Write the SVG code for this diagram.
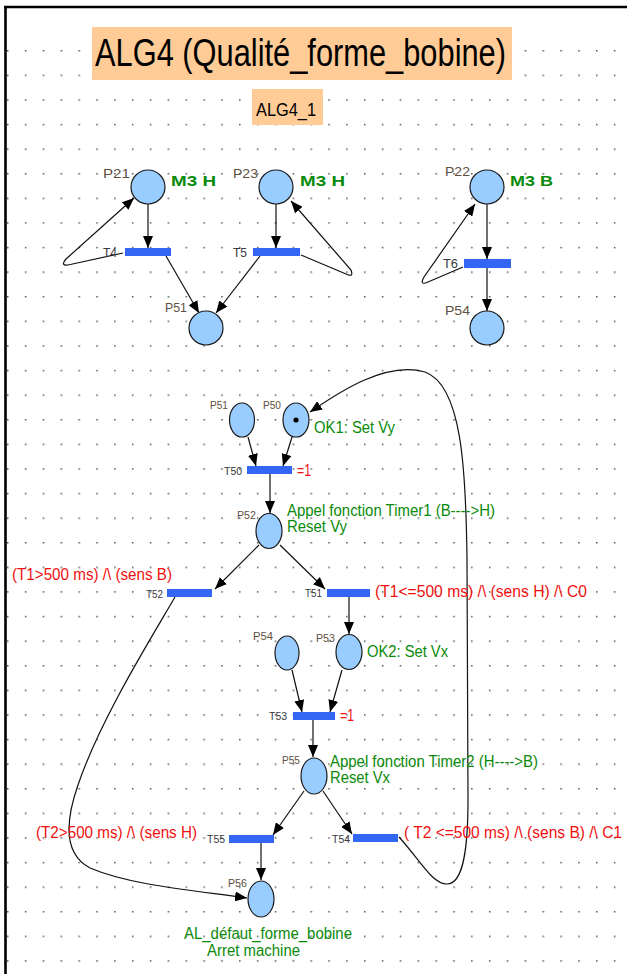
<svg xmlns="http://www.w3.org/2000/svg" width="627" height="974" viewBox="0 0 627 974">
<style>
text{font-family:"Liberation Sans",Arial,sans-serif;}
.pl{fill:#99CCFF;stroke:#1a1a1a;stroke-width:1.2;}
.tr{fill:#3366F2;}
.lp{font-size:13px;fill:#5e4f3e;}
.ls{font-size:11.5px;fill:#5e4f3e;}
.lt{font-size:13px;fill:#383840;}
.lts{font-size:11.5px;fill:#383840;}
.g{font-size:16px;fill:#0a8a0a;}
.gb{font-size:15px;fill:#0a8a0a;font-weight:bold;}
.r{font-size:16px;fill:#f01010;}
.e{fill:none;stroke:#111;stroke-width:1.2;marker-end:url(#ah);}
</style>
<defs>
<pattern id="grid" x="7" y="50" width="17.85" height="24.6" patternUnits="userSpaceOnUse">
<rect x="0" y="0" width="1.5" height="1.5" fill="#555"/>
</pattern>
<marker id="ah" markerWidth="12" markerHeight="10" refX="12" refY="5" orient="auto" markerUnits="userSpaceOnUse">
<path d="M0,0 L12,5 L0,10 z" fill="#000"/>
</marker>
</defs>
<rect x="0" y="0" width="627" height="974" fill="#fff"/>
<rect x="7" y="50" width="620" height="918" fill="url(#grid)"/>
<path d="M4,7 H627 M5.5,6 V974" stroke="#000" stroke-width="2.6" fill="none"/>

<g id="title">
<rect x="92" y="27" width="420" height="53" fill="#FFCB96"/>
<text x="95" y="66" font-size="38" textLength="411" lengthAdjust="spacingAndGlyphs" fill="#000">ALG4 (Qualité_forme_bobine)</text>
</g>
<g id="subtitle">
<rect x="252" y="89" width="71" height="36" fill="#FFCB96"/>
<text x="256" y="116" font-size="19" textLength="60" lengthAdjust="spacingAndGlyphs" fill="#000">ALG4_1</text>
</g>

<g id="connectors">
<path class="e" d="M148,204 V248"/>
<path class="e" d="M166,256 L199,313"/>
<path class="e" d="M123,253 L68,265 Q60,266 66,259 L134,198"/>
<path class="e" d="M276,204 V248"/>
<path class="e" d="M260,256 L216,313"/>
<path class="e" d="M301,255 L346,274 Q354,278 351,270 L291,201"/>
<path class="e" d="M487,204 V259"/>
<path class="e" d="M487,268 V311"/>
<path class="e" d="M463,267 L428,282 Q419,286 424,277 L475,204"/>
<path class="e" d="M248,437 L256,466"/>
<path class="e" d="M292,437 L283,466"/>
<path class="e" d="M270,474 V513"/>
<path class="e" d="M259,545 L215,589"/>
<path class="e" d="M280,545 L325,589"/>
<path class="e" d="M349,597 V634"/>
<path class="e" d="M292,670 L302,712"/>
<path class="e" d="M342,670 L330,712"/>
<path class="e" d="M313,719 V757"/>
<path class="e" d="M304,791 L273,835"/>
<path class="e" d="M323,791 L352,834"/>
<path class="e" d="M261,842 V880"/>
<path class="e" d="M175,597 C150,640 100,720 78,785 C64,825 65,855 90,868 C130,885 190,890 247,898"/>
<path class="e" d="M399,837 C420,860 432,884 447,884 C463,884 468,850 468,800 L467,560 C466,470 462,385 425,372 C385,360 335,395 310,412"/>
</g>

<g id="P21"><circle class="pl" cx="148" cy="187" r="17"/><text class="lp" x="103" y="178" textLength="27" lengthAdjust="spacingAndGlyphs">P21</text><text class="gb" x="171" y="186" textLength="45" lengthAdjust="spacingAndGlyphs">M3 H</text></g>
<g id="P23"><circle class="pl" cx="276" cy="187" r="17"/><text class="lp" x="233" y="178" textLength="25" lengthAdjust="spacingAndGlyphs">P23</text><text class="gb" x="300" y="186" textLength="45" lengthAdjust="spacingAndGlyphs">M3 H</text></g>
<g id="P22"><circle class="pl" cx="487" cy="187" r="17"/><text class="lp" x="445" y="176" textLength="25" lengthAdjust="spacingAndGlyphs">P22</text><text class="gb" x="510" y="186" textLength="43" lengthAdjust="spacingAndGlyphs">M3 B</text></g>
<g id="T4"><rect class="tr" x="125" y="248" width="46" height="8"/><text class="lt" x="103" y="257" textLength="14" lengthAdjust="spacingAndGlyphs">T4</text></g>
<g id="T5"><rect class="tr" x="253" y="248" width="47" height="8"/><text class="lt" x="233" y="257" textLength="14" lengthAdjust="spacingAndGlyphs">T5</text></g>
<g id="T6"><rect class="tr" x="464" y="259" width="47" height="9"/><text class="lt" x="443" y="268" textLength="15" lengthAdjust="spacingAndGlyphs">T6</text></g>
<g id="P51a"><circle class="pl" cx="206" cy="328" r="17"/><text class="lp" x="165" y="312" textLength="22" lengthAdjust="spacingAndGlyphs">P51</text></g>
<g id="P54a"><circle class="pl" cx="487" cy="328" r="17"/><text class="lp" x="445" y="315" textLength="25" lengthAdjust="spacingAndGlyphs">P54</text></g>

<g id="P51b"><ellipse class="pl" cx="242" cy="420" rx="12.5" ry="17"/><text class="ls" x="210" y="409" textLength="18" lengthAdjust="spacingAndGlyphs">P51</text></g>
<g id="P50"><ellipse class="pl" cx="296" cy="420" rx="13" ry="17"/><circle cx="296" cy="420" r="2.6" fill="#000"/><text class="ls" x="263" y="409" textLength="18" lengthAdjust="spacingAndGlyphs">P50</text><text class="g" x="314" y="433" textLength="81" lengthAdjust="spacingAndGlyphs">OK1: Set Vy</text></g>
<g id="T50"><rect class="tr" x="247" y="466" width="45" height="8"/><text class="lts" x="224" y="475" textLength="18" lengthAdjust="spacingAndGlyphs">T50</text><text class="r" x="297" y="476" font-size="18" textLength="14" lengthAdjust="spacingAndGlyphs">=1</text></g>
<g id="P52"><ellipse class="pl" cx="269" cy="531" rx="13" ry="17.5"/><text class="ls" x="237" y="519" textLength="19" lengthAdjust="spacingAndGlyphs">P52</text><text class="g" x="287" y="516" textLength="208" lengthAdjust="spacingAndGlyphs">Appel fonction Timer1 (B----&gt;H)</text><text class="g" x="287" y="532" textLength="60" lengthAdjust="spacingAndGlyphs">Reset Vy</text></g>
<g id="T52"><rect class="tr" x="167" y="589" width="45" height="8"/><text class="lts" x="146" y="598" textLength="17" lengthAdjust="spacingAndGlyphs">T52</text><text class="r" x="12" y="580" textLength="160" lengthAdjust="spacingAndGlyphs">(T1&gt;500 ms) /\ (sens B)</text></g>
<g id="T51"><rect class="tr" x="327" y="589" width="43" height="8"/><text class="lts" x="305" y="597" textLength="17" lengthAdjust="spacingAndGlyphs">T51</text><text class="r" x="375" y="597" textLength="212" lengthAdjust="spacingAndGlyphs">(T1&lt;=500 ms) /\ (sens H) /\ C0</text></g>
<g id="P54b"><ellipse class="pl" cx="287" cy="653" rx="12" ry="17"/><text class="ls" x="253" y="640" textLength="20" lengthAdjust="spacingAndGlyphs">P54</text></g>
<g id="P53"><ellipse class="pl" cx="349" cy="652" rx="13" ry="17.5"/><text class="ls" x="316" y="642" textLength="19" lengthAdjust="spacingAndGlyphs">P53</text><text class="g" x="367" y="657" textLength="81" lengthAdjust="spacingAndGlyphs">OK2: Set Vx</text></g>
<g id="T53"><rect class="tr" x="293" y="712" width="42" height="8"/><text class="lts" x="269" y="720" textLength="18" lengthAdjust="spacingAndGlyphs">T53</text><text class="r" x="340" y="721" font-size="18" textLength="14" lengthAdjust="spacingAndGlyphs">=1</text></g>
<g id="P55"><ellipse class="pl" cx="314" cy="776" rx="13" ry="18"/><text class="ls" x="282" y="764" textLength="18" lengthAdjust="spacingAndGlyphs">P55</text><text class="g" x="330" y="767" textLength="208" lengthAdjust="spacingAndGlyphs">Appel fonction Timer2 (H----&gt;B)</text><text class="g" x="330" y="783" textLength="60" lengthAdjust="spacingAndGlyphs">Reset Vx</text></g>
<g id="T55"><rect class="tr" x="229" y="835" width="45" height="8"/><text class="lts" x="207" y="843" textLength="18" lengthAdjust="spacingAndGlyphs">T55</text><text class="r" x="36" y="838" textLength="161" lengthAdjust="spacingAndGlyphs">(T2&gt;500 ms) /\ (sens H)</text></g>
<g id="T54"><rect class="tr" x="353" y="834" width="45" height="8"/><text class="lts" x="332" y="843" textLength="18" lengthAdjust="spacingAndGlyphs">T54</text><text class="r" x="404" y="838" textLength="218" lengthAdjust="spacingAndGlyphs">( T2 &lt;=500 ms) /\ (sens B) /\ C1</text></g>
<g id="P56"><ellipse class="pl" cx="261" cy="899" rx="13" ry="18"/><text class="ls" x="228" y="887" textLength="19" lengthAdjust="spacingAndGlyphs">P56</text><text class="g" x="184" y="939" textLength="168" lengthAdjust="spacingAndGlyphs">AL_défaut_forme_bobine</text><text class="g" x="207" y="956" textLength="93" lengthAdjust="spacingAndGlyphs">Arret machine</text></g>
</svg>
